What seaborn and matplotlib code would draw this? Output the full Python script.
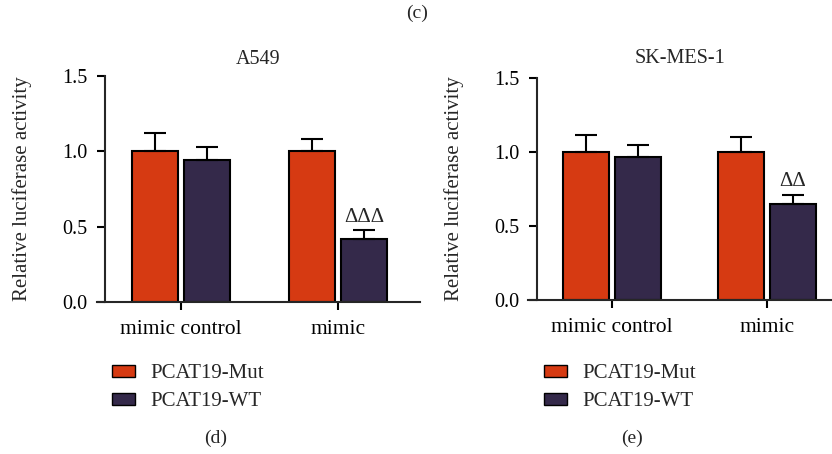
from matplotlib import pyplot as plt
from matplotlib.patches import Patch
import pandas as pd
import seaborn as sn

# Dados
groups = ["mimic control", "mimic"]
constructs = ["PCAT19-Mut", "PCAT19-WT"]

a549_mut = [1.0, 1.0]
a549_mut_err = [0.12, 0.08]
a549_wt = [0.94, 0.42]
a549_wt_err = [0.09, 0.055]

sk_mut = [1.0, 1.0]
sk_mut_err = [0.115, 0.10]
sk_wt = [0.965, 0.647]
sk_wt_err = [0.08, 0.065]

marks = ["ΔΔΔ", "ΔΔ"]
titles = ["A549", "SK-MES-1"]
colors = ["#D63A12", "#34294A"]

sn.set_style("ticks")
plt.rcParams["font.family"] = ["Liberation Serif", "DejaVu Serif"]

fig = plt.figure(figsize=(8.32, 4.54), dpi=100)


def painel(rect, mut, mut_err, wt, wt_err, title, mark, xlim, spine_x, title_pad):
    ax = fig.add_axes(rect)
    df = pd.DataFrame({
        "group": groups * 2,
        "construct": [constructs[0]] * 2 + [constructs[1]] * 2,
        "value": mut + wt,
    })
    sn.barplot(data=df, x="group", y="value", hue="construct", order=groups,
               hue_order=constructs, palette=colors, edgecolor="black",
               linewidth=1.5, width=0.66, gap=0.1, errorbar=None,
               legend=False, ax=ax, saturation=1)
    # barras de erro só para cima
    for cont, vals, errs in zip(ax.containers, [mut, wt], [mut_err, wt_err]):
        xs = [b.get_x() + b.get_width() / 2 for b in cont]
        ax.errorbar(xs, vals, yerr=[[0] * len(errs), errs], fmt="none",
                    ecolor="black", elinewidth=1.5, capsize=8, capthick=1.5,
                    zorder=1)
    b = ax.containers[1][1]
    ax.text(b.get_x() + b.get_width() / 2, wt[1] + wt_err[1] + 0.025, mark,
            ha="center", va="bottom", fontsize=15)
    ax.set_ylim(0, 1.5)
    ax.set_yticks([0, 0.5, 1.0, 1.5])
    ax.set_yticklabels(["0.0", "0.5", "1.0", "1.5"])
    ax.set_xlim(*xlim)
    ax.spines["top"].set_visible(False)
    ax.spines["right"].set_visible(False)
    ax.spines["left"].set_position(("data", spine_x))
    ax.spines["left"].set_linewidth(1.5)
    ax.spines["bottom"].set_linewidth(1.5)
    ax.tick_params(width=1.5, length=6, labelsize=14.5, colors="black")
    ax.tick_params(axis="x", labelsize=15.5, pad=7)
    ax.tick_params(axis="y", pad=6.5)
    ax.set_xlabel("")
    ax.set_ylabel("Relative luciferase activity", fontsize=15, labelpad=22)
    ax.set_title(title, fontsize=14.5, pad=title_pad)
    return ax


ax1 = painel([97 / 832, 152 / 454, 323 / 832, 226 / 454], a549_mut, a549_mut_err,
             a549_wt, a549_wt_err, titles[0], marks[0], (-0.535, 1.522), -0.484, 9)
ax2 = painel([528 / 832, 154 / 454, 304 / 832, 222 / 454], sk_mut, sk_mut_err,
             sk_wt, sk_wt_err, titles[1], marks[1], (-0.542, 1.419), -0.484, 11)

handles = [Patch(facecolor=c, edgecolor="black", linewidth=1) for c in colors]
for x in [95 / 832, 527 / 832]:
    fig.legend(handles, constructs, loc="upper left", bbox_to_anchor=(x, 0.234),
               frameon=False, fontsize=15, handlelength=1.1, handleheight=0.55,
               labelspacing=0.42, handletextpad=0.75, borderpad=0.3)

fig.text(417 / 832, 1 - 13 / 454, "(c)", ha="center", va="center", fontsize=14)
fig.text(216 / 832, 1 - 438 / 454, "(d)", ha="center", va="center", fontsize=14)
fig.text(632 / 832, 1 - 438 / 454, "(e)", ha="center", va="center", fontsize=14)

fig.savefig("out.png", dpi=100)
